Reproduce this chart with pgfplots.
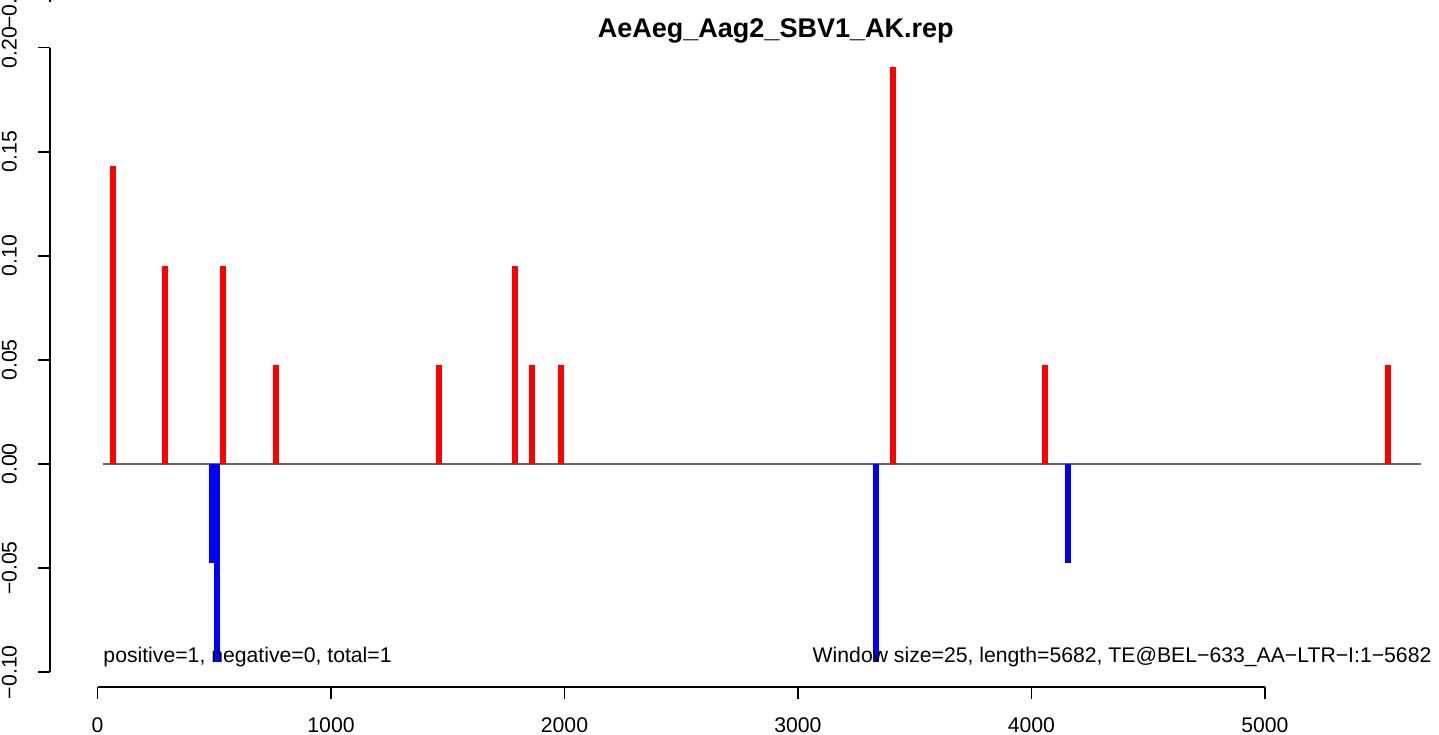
\documentclass[border=0pt]{standalone}
\usepackage{fontspec}
\setmainfont{Liberation Sans}
\usepackage{pgfplots}
\pgfplotsset{compat=1.18}
\begin{document}
\begin{tikzpicture}
\begin{axis}[
  scale only axis,
  width=694.5pt, height=322.15pt,
  xmin=-203.9, xmax=5745.9,
  ymin=-0.10696, ymax=0.2025,
  axis line style={draw=none},
  tick pos=left,
  tick align=outside,
  major tick length=6pt,
  tick style={black, line width=0.9pt},
  xtick={0,1000,2000,3000,4000,5000},
  xticklabels={0,1000,2000,3000,4000,5000},
  ytick={-0.1,-0.05,0,0.05,0.1,0.15,0.2},
  yticklabels={−0.10,−0.05,0.00,0.05,0.10,0.15,0.20},
  ticklabel style={font=\fontsize{10.6}{12}\selectfont},
  xticklabel shift=6pt,
  yticklabel shift=7pt,
  yticklabel style={rotate=90, anchor=south},
  clip=false,
]
\addplot[draw={rgb,255:red,100;green,100;blue,100}, line width=0.75pt] coordinates {(25,0) (5670,0)};
\addplot[ycomb, draw={rgb,255:red,255;green,0;blue,0}, line width=3pt, line cap=butt, mark=none] table {
x y
66 0.1429
289 0.0952
537 0.0952
764 0.0476
1462 0.0476
1788 0.0952
1861 0.0476
1985 0.0476
3406 0.1905
4057 0.0476
5526 0.0476
};
\addplot[ycomb, draw={rgb,255:red,0;green,0;blue,255}, line width=3pt, line cap=butt, mark=none] table {
x y
490 -0.0476
512 -0.0952
3334 -0.0952
4156 -0.0476
};
\draw[line width=0.9pt] (axis cs:0,-0.10696) -- (axis cs:5000,-0.10696);
\draw[line width=0.9pt] (axis cs:-203.9,-0.1) -- (axis cs:-203.9,0.2);
\draw[line width=0.9pt, overlay] (axis cs:-203.9,0.2219) -- (axis cs:-203.9,0.235);
\draw[line width=0.9pt, overlay] (axis cs:-203.9,0.2219) -- ++(-6pt,0);
\node[rotate=90, anchor=south, overlay, font=\fontsize{10.6}{12}\selectfont] at ([xshift=-13pt]axis cs:-203.9,0.2219) {−0.10};
\node[font=\bfseries\fontsize{13.5}{16}\selectfont] at (axis cs:2905,0.208) {AeAeg\_Aag2\_SBV1\_AK.rep};
\node[anchor=west, inner sep=0pt, font=\fontsize{10.6}{12}\selectfont] at (axis cs:23.5,-0.0927) {positive=1, negative=0, total=1};
\node[anchor=east, inner sep=0pt, font=\fontsize{10.6}{12}\selectfont] at (axis cs:5715,-0.0927) {Window size=25, length=5682, TE@BEL−633\_AA−LTR−I:1−5682};
\coordinate (BL) at (axis cs:-418,-0.13016);
\coordinate (TR) at (axis cs:5745.9,0.22286);
\end{axis}
\pgfresetboundingbox
\path[use as bounding box] (BL) rectangle (TR);
\end{tikzpicture}
\end{document}
